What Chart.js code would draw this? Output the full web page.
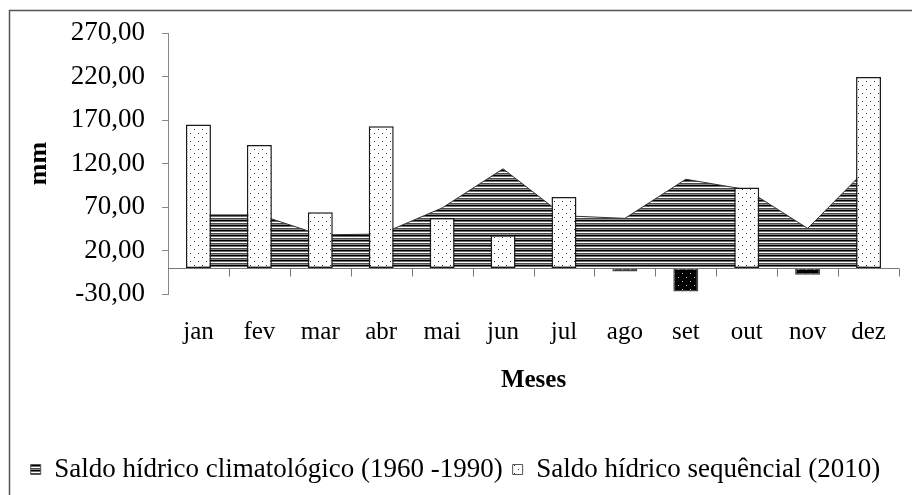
<!DOCTYPE html>
<html>
<head>
<meta charset="utf-8">
<script src="https://cdn.jsdelivr.net/npm/chart.js@4"></script>
<style>
  body { margin: 0; background: #fff; }
</style>
</head>
<body>
<canvas id="chart" width="912" height="495"></canvas>
<script>
const months = ['jan', 'fev', 'mar', 'abr', 'mai', 'jun', 'jul', 'ago', 'set', 'out', 'nov', 'dez'];
// Saldo hídrico climatológico (1960-1990), area behind the bars
const saldoClimatologico = [61, 61, 38, 39, 69, 114, 60, 57, 102, 90, 45.5, 116];
// Saldo hídrico sequêncial (2010), bars
const saldoSequencial = [165, 141.5, 64, 163, 57.5, 37.5, 81.5, -4, -27, 92.5, -8, 219.5];
const yTicks = [-30, 20, 70, 120, 170, 220, 270];

const serif = 'Liberation Serif, Times New Roman, serif';

// horizontal stripes for the area
function stripePattern() {
  const c = document.createElement('canvas');
  c.width = 4; c.height = 5;
  const g = c.getContext('2d');
  ['#000', '#6e6e6e', '#fff', '#4a4a4a', '#8a8a8a'].forEach((col, i) => {
    g.fillStyle = col;
    g.fillRect(0, i, 4, 1);
  });
  return g.createPattern(c, 'repeat');
}

// sparse dots for the bars
function dotPattern(bg, dot) {
  const c = document.createElement('canvas');
  c.width = 8; c.height = 8;
  const g = c.getContext('2d');
  g.fillStyle = bg;
  g.fillRect(0, 0, 8, 8);
  g.fillStyle = dot;
  g.fillRect(2, 1, 1, 1);
  g.fillRect(6, 5, 1, 1);
  return g.createPattern(c, 'repeat');
}

const stripes = stripePattern();
const dotsPos = dotPattern('#fff', '#333');
const dotsNeg = dotPattern('#000', '#ccc');

// frame around the chart + zero axis with tick marks
const frameAndZero = {
  id: 'frameAndZero',
  beforeDraw(chart) {
    const ctx = chart.ctx;
    ctx.save();
    ctx.fillStyle = '#fff';
    ctx.fillRect(0, 0, chart.width, chart.height);
    ctx.strokeStyle = '#555';
    ctx.lineWidth = 1.5;
    ctx.strokeRect(9.5, 10.5, 1000, 1000);
    ctx.restore();
  },
  afterDatasetsDraw(chart) {
    const {ctx, chartArea, scales: {x, y}} = chart;
    const y0 = Math.round(y.getPixelForValue(0)) + 0.5;
    const half = (x.getPixelForValue(1) - x.getPixelForValue(0)) / 2;
    ctx.save();
    ctx.strokeStyle = '#777';
    ctx.lineWidth = 1;
    ctx.beginPath();
    ctx.moveTo(chartArea.left, y0);
    ctx.lineTo(chartArea.right, y0);
    months.forEach((m, i) => {
      const xb = Math.round(x.getPixelForValue(i) + half) + 0.5;
      ctx.moveTo(xb, y0);
      ctx.lineTo(xb, y0 + 8);
    });
    ctx.stroke();
    ctx.restore();
  }
};

const config = {
  data: {
    labels: months,
    datasets: [
      {
        type: 'line',
        label: 'Saldo hídrico climatológico (1960 -1990)',
        data: saldoClimatologico,
        fill: 'origin',
        backgroundColor: stripes,
        borderColor: '#333',
        borderWidth: 1,
        pointRadius: 0,
        tension: 0,
        order: 2
      },
      {
        type: 'bar',
        label: 'Saldo hídrico sequêncial (2010)',
        data: saldoSequencial,
        backgroundColor: ctx => (ctx.raw !== undefined && ctx.raw < 0) ? dotsNeg : dotsPos,
        borderColor: ctx => (ctx.raw !== undefined && ctx.raw < 0) ? '#444' : '#1a1a1a',
        borderWidth: 1.5,
        borderSkipped: false,
        barPercentage: 0.41,
        categoryPercentage: 1.0,
        order: 1
      }
    ]
  },
  options: {
    responsive: false,
    animation: false,
    layout: { padding: { top: 26, left: 12, right: 13, bottom: 2 } },
    scales: {
      x: {
        type: 'category',
        offset: true,
        grid: { display: false, drawTicks: false },
        border: { display: false },
        ticks: {
          color: '#000',
          font: { family: serif, size: 25 },
          padding: 23,
          maxRotation: 0
        },
        title: {
          display: true,
          text: 'Meses',
          color: '#000',
          font: { family: serif, size: 25, weight: 'bold' },
          padding: { top: 0, bottom: 50 }
        },
        afterFit(s) { s.height = 152; }
      },
      y: {
        min: -30,
        max: 270,
        afterBuildTicks(s) { s.ticks = yTicks.map(v => ({ value: v })); },
        grid: { drawOnChartArea: false, color: '#888', tickLength: 6 },
        border: { color: '#888', width: 1 },
        ticks: {
          color: '#000',
          font: { family: serif, size: 27 },
          padding: 17,
          callback: v => v.toFixed(2).replace('.', ',')
        },
        title: {
          display: true,
          text: 'mm',
          color: '#000',
          font: { family: serif, size: 26, weight: 'bold' },
          padding: { top: 12, bottom: 0 }
        },
        afterFit(s) { s.width = 156; }
      }
    },
    plugins: {
      legend: {
        position: 'bottom',
        labels: {
          color: '#000',
          font: { family: serif, size: 27 },
          boxWidth: 10,
          boxHeight: 10,
          padding: 10,
          generateLabels: () => [
            { text: 'Saldo hídrico climatológico (1960 -1990)', fillStyle: stripes, strokeStyle: '#555', lineWidth: 1, datasetIndex: 0 },
            { text: 'Saldo hídrico sequêncial (2010)', fillStyle: dotsPos, strokeStyle: '#555', lineWidth: 1, datasetIndex: 1 }
          ]
        }
      },
      tooltip: { enabled: false }
    }
  },
  plugins: [frameAndZero]
};

new Chart(document.querySelector('#chart').getContext('2d'), config);
</script>
</body>
</html>
